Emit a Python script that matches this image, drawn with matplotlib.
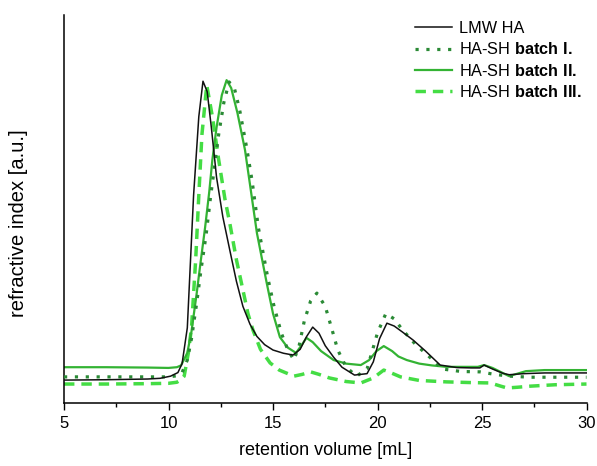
import matplotlib
matplotlib.use("Agg")
import matplotlib.pyplot as plt

plt.rcParams["font.family"] = ["Liberation Sans", "DejaVu Sans"]
plt.rcParams["mathtext.fontset"] = "custom"
plt.rcParams["mathtext.rm"] = "Liberation Sans"
plt.rcParams["mathtext.bf"] = "Liberation Sans:bold"

# LMW HA (black)
x_lmw = [5, 7, 9, 9.6, 10.1, 10.45, 10.65, 10.9, 11.2, 11.45, 11.65, 11.85, 12.05, 12.3, 12.6,
         12.94, 13.25, 13.56, 13.9, 14.23, 14.6, 15.0, 15.5, 15.96, 16.3, 16.6, 16.9, 17.2, 17.5,
         17.9, 18.3, 18.9, 19.5, 19.8, 20.1, 20.45, 20.8, 21.2, 21.7, 22.3, 23.0, 23.8, 24.5, 24.9,
         25.1, 25.5, 26.0, 26.3, 27.0, 28, 30]
y_lmw = [6.4, 6.5, 6.7, 6.9, 7.5, 8.5, 11, 21, 58, 80, 89.9, 87, 77, 63, 52,
         42.5, 34, 27, 22, 18.6, 16.3, 14.8, 13.9, 13.4, 15, 18.5, 21.2, 19.5, 16,
         12.8, 10, 7.8, 8.2, 11.5, 18, 22.3, 21.5, 19.8, 17.6, 14.5, 10.6, 9.9, 9.8, 9.8,
         10.6, 9.5, 8.3, 7.9, 8.2, 8.4, 8.4]

# HA-SH batch I. (dotted, dark green)
x_b1 = [5, 7, 9, 10.0, 10.4, 10.65, 10.9, 11.1, 11.35, 11.55, 11.8, 12.0, 12.2, 12.4, 12.65,
        12.9, 13.15, 13.4, 13.75, 14.0, 14.3, 14.75, 15.05, 15.4, 15.7, 16.0, 16.25, 16.5, 16.8,
        17.1, 17.5, 17.8, 18.1, 18.5, 19.0, 19.5, 20.0, 20.4, 20.8, 21.2, 21.8, 22.5, 23.1, 24.0,
        24.9, 25.6, 26.3, 27.3, 30]
y_b1 = [7.3, 7.3, 7.3, 7.3, 7.6, 8.5, 12, 18, 28, 37, 47, 57, 66, 75, 84,
        89.7, 88, 82, 71, 62, 49, 35, 27, 19.5, 15, 12, 16, 23, 28.5,
        30.7, 27, 21, 14.8, 10, 7.5, 9.5, 19.6, 25, 23.5, 20.4, 16.5, 12.8, 9.5, 8.8,
        8.7, 8.0, 7.5, 7.2, 7.2]

# HA-SH batch II. (solid, green)
x_b2 = [5, 7, 9, 10.0, 10.4, 10.6, 10.9, 11.1, 11.35, 11.55, 11.75, 11.95, 12.1, 12.3, 12.55,
        12.78, 13.0, 13.3, 13.66, 13.9, 14.23, 14.7, 15.0, 15.33, 15.7, 16.1, 16.35, 16.6, 16.9,
        17.3, 17.9, 18.5, 19.2, 19.6, 19.95, 20.3, 20.7, 21.0, 21.4, 22.0, 22.6, 23.3, 24.2, 24.8,
        25.1, 25.5, 26.3, 26.7, 27.1, 28, 30]
y_b2 = [10, 10, 9.9, 9.8, 10, 10.5, 14, 20, 30.7, 40, 49, 59, 68, 77, 86,
        90.2, 88, 81, 70.7, 61, 47.5, 33.5, 25, 18.4, 15.5, 14, 16, 18.2, 17,
        14.5, 12, 11, 10.6, 12, 14.5, 15.9, 14.5, 13, 12, 11, 10.5, 10.1, 10.1, 10.1,
        10.6, 9.8, 7.5, 8.2, 8.9, 9.2, 9.2]

# HA-SH batch III. (dashed, light green)
x_b3 = [5, 7, 9, 10.0, 10.4, 10.6, 10.75, 10.95, 11.1, 11.3, 11.45, 11.6, 11.83, 12.1, 12.4,
        12.7, 12.94, 13.25, 13.56, 13.8, 14.04, 14.4, 14.86, 15.3, 16.0, 16.4, 16.8, 17.2, 17.7,
        18.5, 19.2, 19.8, 20.3, 20.7, 21.1, 22.0, 23.3, 24.5, 25.4, 25.9, 26.2, 26.7, 27.3, 28.5, 30]
y_b3 = [5.3, 5.3, 5.4, 5.5, 5.8, 6.5, 7.5, 14, 21, 40, 58, 75, 88.8, 80, 68,
        57, 50, 40, 31.6, 25, 20.4, 15, 11.2, 9.2, 7.5, 8, 8.7, 8, 7,
        6, 5.6, 7, 9.2, 8.3, 7.3, 6.3, 5.9, 5.7, 5.6, 4.7, 4.2, 4.4, 4.7, 5.1, 5.3]

fig = plt.figure(figsize=(5.97, 4.66), dpi=100)
ax = fig.add_axes([64/597, 63/466, 522.5/597, 388/466])

ax.plot(x_lmw, y_lmw, color="#111111", lw=1.1, label="LMW HA", zorder=4)
ax.plot(x_b1, y_b1, color="#2a8a35", lw=2.3, ls=(0, (1, 2.4)),
        label="HA-SH $\\mathbf{batch\\ I.}$", zorder=3)
ax.plot(x_b2, y_b2, color="#33b333", lw=1.6, label="HA-SH $\\mathbf{batch\\ II.}$", zorder=2)
ax.plot(x_b3, y_b3, color="#44dd44", lw=2.5, ls=(0, (3, 2)),
        label="HA-SH $\\mathbf{batch\\ III.}$", zorder=1)

ax.set_xlim(5, 30)
ax.set_ylim(0, 108.4)
ax.set_xticks([5, 10, 15, 20, 25, 30])
ax.set_xticks([7.5, 12.5, 17.5, 22.5, 27.5], minor=True)
ax.set_yticks([])
ax.tick_params(axis="x", which="major", direction="out", length=5, width=1, labelsize=12, pad=4)
ax.tick_params(axis="x", which="minor", direction="out", length=3, width=1)
for s in ["top", "right"]:
    ax.spines[s].set_visible(False)
for s in ["left", "bottom"]:
    ax.spines[s].set_linewidth(1.1)

ax.set_xlabel("retention volume [mL]", fontsize=13, labelpad=8)
ax.set_ylabel("refractive index [a.u.]", fontsize=14.5)
ax.yaxis.set_label_coords(-0.068, 0.464)

ax.legend(loc="upper left", bbox_to_anchor=(415/597, 1 - 21/466), bbox_transform=fig.transFigure,
          frameon=False, fontsize=11.7, handlelength=2.28, handletextpad=0.43,
          labelspacing=0.33, borderpad=0, borderaxespad=0)

fig.savefig("out.png", dpi=100)
